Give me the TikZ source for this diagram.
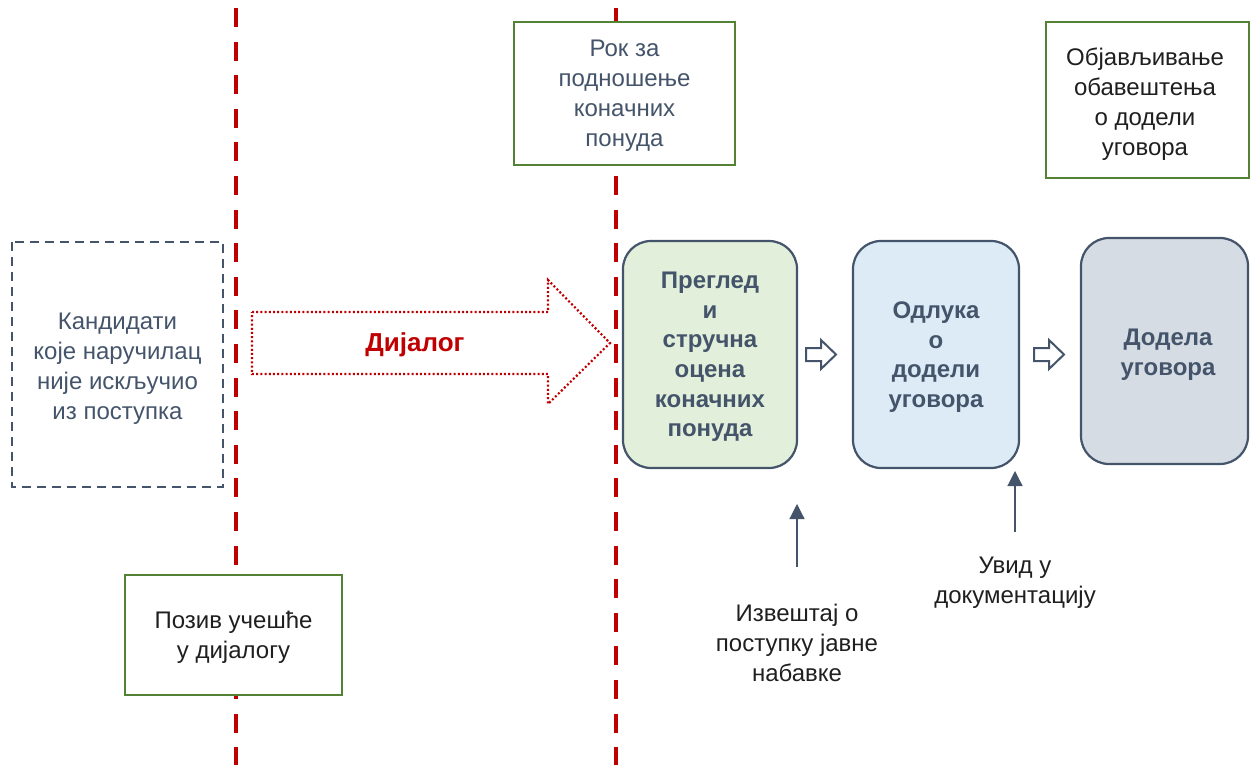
\documentclass[tikz,border=0pt]{standalone}
\usepackage{fontspec}
\setmainfont{Liberation Sans}
\usetikzlibrary{arrows.meta}
\definecolor{slate}{HTML}{44546A}
\definecolor{dred}{HTML}{C00000}
\definecolor{gborder}{HTML}{548235}
\definecolor{gfill}{HTML}{E2EFDA}
\definecolor{bfill}{HTML}{DDEBF7}
\definecolor{grfill}{HTML}{D6DCE4}
\tikzset{
  txt/.style={font=\fontsize{24}{30}\selectfont, align=center, inner sep=0pt},
  btxt/.style={font=\bfseries\fontsize{24}{29.6}\selectfont, align=center, inner sep=0pt, text=slate},
  redline/.style={draw=dred, line width=4.5pt, dash pattern=on 19pt off 14.6pt},
  greenbox/.style={draw=gborder, line width=2.2pt, fill=white},
  stagebox/.style={draw=slate, line width=2.2pt, rounded corners=28pt},
  smallarrow/.style={draw=slate, line width=2pt, fill=white, line join=miter},
  uparrow/.style={draw=slate, line width=1.2pt, -{Triangle[length=15pt,width=15pt]}}
}
\begin{document}
\begin{tikzpicture}[x=1pt,y=-1pt]
\useasboundingbox (0,0) rectangle (1250,765);
\clip (0,0) rectangle (1250,765);
% vertical red dashed lines
\coordinate (l1t) at (236,8);
\coordinate (l1b) at (236,775);
\coordinate (l2t) at (616,8);
\coordinate (l2b) at (616,775);
\draw[redline] (l1t) -- (l1b);
\draw[redline] (l2t) -- (l2b);

% green boxes
\draw[greenbox] (514,22) rectangle (735,165);
\node[txt, text=slate] (rok) at (624.5,96) {Рок за\\подношење\\коначних\\понуда};
\draw[greenbox] (1046,22) rectangle (1249,178);
\node[txt, text=black!88] (obj) at (1145,104) {Објављивање\\обавештења\\о додели\\уговора};
\draw[greenbox] (125,575) rectangle (342,695);
\node[txt, text=black!88] (poziv) at (233.5,637.5) {Позив учешће\\у дијалогу};

% candidates box
\draw[draw=slate, line width=2pt, dash pattern=on 9pt off 6pt] (12,242) rectangle (223,487);
\node[txt, text=slate] (kand) at (117.5,368.5) {Кандидати\\које наручилац\\није искључио\\из поступка};

% dialog arrow
\draw[dred, line width=2.2pt, dash pattern=on 2pt off 2.2pt, line join=miter]
  (252,312) -- (548,312) -- (548,280) -- (610,343) -- (548,404) -- (548,374) -- (252,374) -- cycle;
\node[font=\bfseries\fontsize{26}{30}\selectfont, inner sep=0pt, text=dred] (dij) at (415,345) {Дијалог};

% stage boxes
\draw[stagebox, fill=gfill] (623,241) rectangle (797,468);
\node[btxt] (s1) at (710,357) {Преглед\\и\\стручна\\оцена\\коначних\\понуда};
\draw[stagebox, fill=bfill] (853,241) rectangle (1019,468);
\node[btxt] (s2) at (936,357) {Одлука\\о\\додели\\уговора};
\draw[stagebox, fill=grfill] (1081,238) rectangle (1248,464);
\node[btxt] (s3) at (1168,354.5) {Додела\\уговора};

% small block arrows
\draw[smallarrow] (806,348) -- (821,348) -- (821,340) -- (836,354.5) -- (821,369) -- (821,361) -- (806,361) -- cycle;
\draw[smallarrow] (1034,348) -- (1049,348) -- (1049,340) -- (1064,354.5) -- (1049,369) -- (1049,361) -- (1034,361) -- cycle;

% up arrows
\coordinate (a1s) at (797,567);
\coordinate (a1e) at (797,504);
\draw[uparrow] (a1s) -- (a1e);
\coordinate (a2s) at (1015,532);
\coordinate (a2e) at (1015,471);
\draw[uparrow] (a2s) -- (a2e);
\node[txt, text=black!88] (izv) at (797,643) {Извештај о\\поступку јавне\\набавке};
\node[txt, text=black!88] (uvid) at (1015,583) {Увид у\\документацију};
\end{tikzpicture}
\end{document}
